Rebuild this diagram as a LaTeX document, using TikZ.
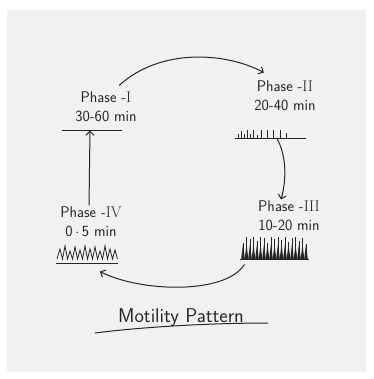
\documentclass[tikz,border=0pt]{standalone}
\usepackage{tikz}
\usetikzlibrary{arrows.meta}
\definecolor{ink}{HTML}{262626}
\definecolor{paper}{HTML}{F1F1F1}

\begin{document}
\begin{tikzpicture}[x=1pt,y=-1pt,line width=1pt,draw=ink,fill=ink,text=ink,
	>={Straight Barb[length=4pt,width=8pt]},
	phase/.style={align=center,inner sep=1pt,font=\sffamily\fontsize{15.5}{19}\selectfont},
	wave/.style={minimum height=10pt,inner sep=0pt}]
			\fill[white] (0,0) rectangle (373,379);
			\fill[paper] (7,10) rectangle (366,372);
			\useasboundingbox (0,0) rectangle (373,379);
			% phases
			\node[phase] (p1) at (106,107) {Phase -{\rmfamily I}\\30-60 min};
			\node[phase] (p2) at (285,96) {Phase -{\rmfamily II}\\20-40 min};
			\node[phase] (p3) at (289,216) {Phase -{\rmfamily III}\\10-20 min};
			\node[phase] (p4) at (91,222) {Phase -{\rmfamily IV}\\0\,$\cdot$\,5 min};
			% waves
			\node[wave,minimum width=59pt] (w1) at (92,125) {};
			\draw (w1.south west) -- (w1.south east);
			\node[wave,minimum width=70pt] (w2) at (270,133) {};
			\draw (w2.south west) -- (w2.south east);
			\foreach \x/\h in {238/4,241/7,244/4,247/8,250/4,253/8,257/3,261/8,267/8,273/8,280/8,286/5}
				\draw[line width=0.8pt] (\x,138) -- ++(0,-\h);
			\node[wave,minimum width=68pt,minimum height=24pt] (w3) at (274,247) {};
			\draw[line width=1.4pt] (w3.south west) -- (w3.south east);
			\foreach \x/\h in {243/16,246.5/22,250/20,253.5/22,257/18,260.5/22,264/21,267.5/16,271/22,274.5/20,278/22,281.5/19,285/22,288.5/17,292/21,295.5/22,299/18,302.5/21,306/15}
				{\draw[line width=0.6pt] (\x,259) -- ++(0,-\h);
				\fill ({\x-1.8},259) -- (\x,244) -- ({\x+1.8},259) -- cycle;}
			\node[wave,minimum width=61pt,minimum height=18pt] (w4) at (87,254) {};
			\draw (w4.south west) -- (w4.south east);
			\draw[line width=0.8pt] (57,259) foreach \x/\h in {60/249,65/246,70/251,75/247,80/250,85/246,90/249,95/247,100/251,105/246,110/249,115/250} {-- (\x,\h) -- ({\x+2.5},259)};
			% cycle
			\draw[->] ([shift={(-19,-5)}]p1.north east) .. controls (160,48) and (225,52) .. ([shift={(11,-7)}]p2.north west);
			\draw[->] ([xshift=7pt]w2.south) .. controls (286,155) and (287,178) .. ([xshift=-8pt]p3.north);
			\draw[->] ([shift={(5,5)}]w3.south west) .. controls (225,295) and (140,292) .. ([shift={(-18,8)}]w4.south east);
			\draw[->] ([xshift=-2pt]p4.north) -- ([xshift=-2pt]w1.south);
			%\draw[->] (p4.north) -- (p1.south);
			\node[font=\sffamily\fontsize{20}{22}\selectfont] (title) at (181,318) {Motility Pattern};
			\draw (95,333) .. controls (150,326) and (220,323) .. (268,323);
\end{tikzpicture}
\end{document}
